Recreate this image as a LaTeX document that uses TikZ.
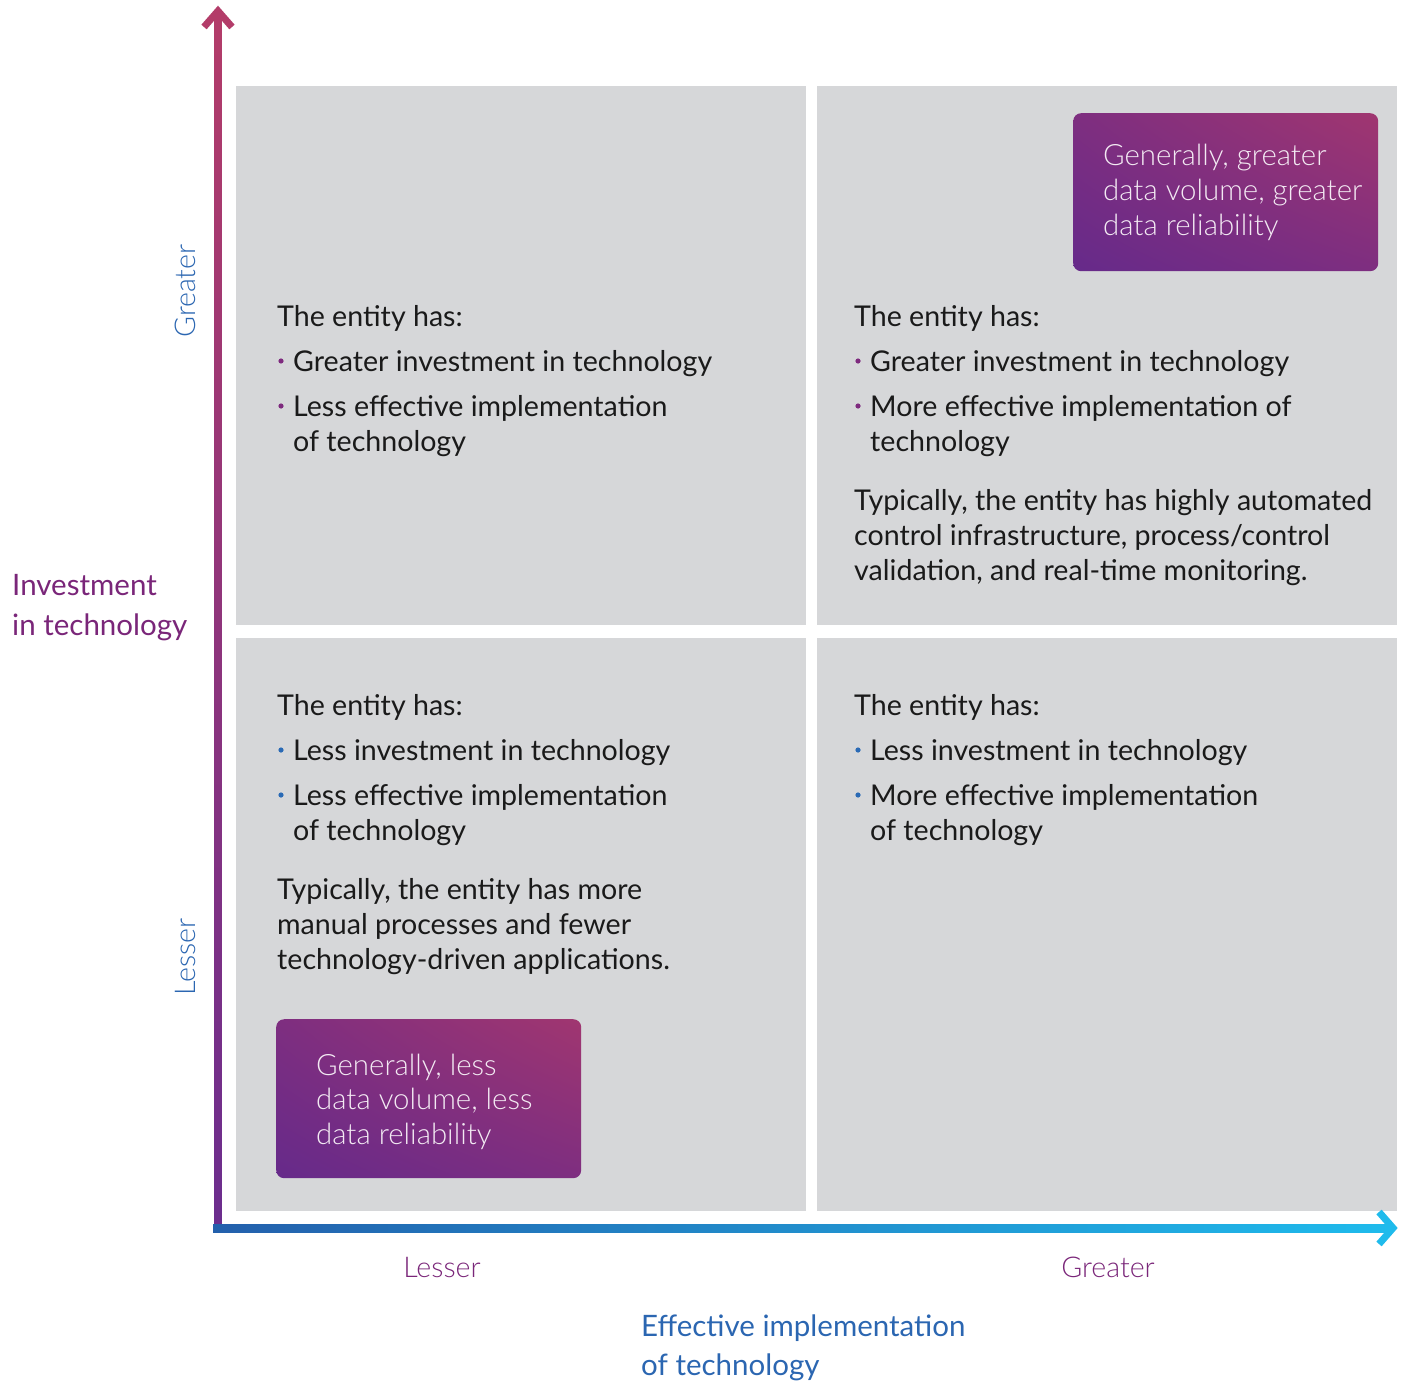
\documentclass[tikz,border=0pt]{standalone}
\usepackage{fontspec}
\setmainfont{Lato}
\newfontfamily\lightfont{Lato Light}
\usetikzlibrary{calc,shadings}

\definecolor{quadgray}{HTML}{D6D7D9}
\definecolor{bodytext}{HTML}{1A1A1A}
\definecolor{labpurple}{HTML}{7A2679}
\definecolor{labblue}{HTML}{2B66B1}
\definecolor{bulpurple}{HTML}{7E2A7E}
\definecolor{bulblue}{HTML}{2A6AB5}
\definecolor{boxLL}{HTML}{662A8A}
\definecolor{boxMid}{HTML}{7E2E80}
\definecolor{boxUR}{HTML}{A03670}
\definecolor{boxtext}{HTML}{F3EAF3}
\definecolor{vaxbot}{HTML}{6B2D8E}
\definecolor{vaxtop}{HTML}{B33C69}
\definecolor{haxleft}{HTML}{2360AC}
\definecolor{haxright}{HTML}{1FBBEC}

\tikzset{
  quad/.style={fill=quadgray, draw=none, anchor=north west, inner sep=0pt},
  body/.style={anchor=base west, inner sep=0pt, text=bodytext, font=\fontsize{28.6}{34}\selectfont},
  boxtxt/.style={anchor=base west, inner sep=0pt, text=boxtext, font=\lightfont\fontsize{29.4}{34}\selectfont},
  axlab/.style={inner sep=0pt, font=\fontsize{29.5}{34}\selectfont},
  axlight/.style={inner sep=0pt, font=\lightfont\fontsize{28.6}{34}\selectfont},
  pbox/.style={anchor=north west, inner sep=0pt, rounded corners=8pt,
    lower left=boxLL, upper left=boxMid, lower right=boxMid, upper right=boxUR},
  bulP/.style={fill=bulpurple},
  bulB/.style={fill=bulblue},
  chevron/.style={line width=7pt, miter limit=10, line join=miter},
}

\begin{document}
\begin{tikzpicture}[x=1pt, y=-1pt]
\useasboundingbox (0,0) rectangle (1408,1383);

% quadrants
\node[quad, minimum width=570pt, minimum height=539pt] (qtl) at (236,86) {};
\node[quad, minimum width=580pt, minimum height=539pt] (qtr) at (817,86) {};
\node[quad, minimum width=570pt, minimum height=573pt] (qbl) at (236,638) {};
\node[quad, minimum width=580pt, minimum height=573pt] (qbr) at (817,638) {};

% highlighted boxes
\node[pbox, minimum width=305pt, minimum height=158pt] (boxtr) at (1073,113) {};
\node[pbox, minimum width=305pt, minimum height=159pt] (boxbl) at (276,1019) {};

\node[boxtxt] (btr1) at (1103,166) {Generally, greater};
\node[boxtxt] (btr2) at (1103,201) {data volume, greater};
\node[boxtxt] (btr3) at (1103,236) {data reliability};

\node[boxtxt] (bbl1) at (316,1075) {Generally, less};
\node[boxtxt] (bbl2) at (316,1109) {data volume, less};
\node[boxtxt] (bbl3) at (316,1144) {data reliability};

% top left quadrant
\node[body] (tlh) at (277,326) {The entity has:};
\node[body] (tl1) at (293,371) {Greater investment in technology};
\node[body] (tl2) at (293,416) {Less effective implementation};
\node[body] (tl3) at (293,451) {of technology};
\fill[bulP] ($(tl1.base west)+(-12,-10)$) circle[radius=2.6pt];
\fill[bulP] ($(tl2.base west)+(-12,-10)$) circle[radius=2.6pt];

% top right quadrant
\node[body] (trh) at (854,326) {The entity has:};
\node[body] (tr1) at (870,371) {Greater investment in technology};
\node[body] (tr2) at (870,416) {More effective implementation of};
\node[body] (tr3) at (870,451) {technology};
\fill[bulP] ($(tr1.base west)+(-12,-10)$) circle[radius=2.6pt];
\fill[bulP] ($(tr2.base west)+(-12,-10)$) circle[radius=2.6pt];
\node[body] (trp1) at (854,510) {Typically, the entity has highly automated};
\node[body] (trp2) at (854,545) {control infrastructure, process/control};
\node[body] (trp3) at (854,580) {validation, and real-time monitoring.};

% bottom left quadrant
\node[body] (blh) at (277,715) {The entity has:};
\node[body] (bl1) at (293,760) {Less investment in technology};
\node[body] (bl2) at (293,805) {Less effective implementation};
\node[body] (bl3) at (293,840) {of technology};
\fill[bulB] ($(bl1.base west)+(-12,-10)$) circle[radius=2.6pt];
\fill[bulB] ($(bl2.base west)+(-12,-10)$) circle[radius=2.6pt];
\node[body] (blp1) at (277,899) {Typically, the entity has more};
\node[body] (blp2) at (277,934) {manual processes and fewer};
\node[body] (blp3) at (277,969) {technology-driven applications.};

% bottom right quadrant
\node[body] (brh) at (854,715) {The entity has:};
\node[body] (br1) at (870,760) {Less investment in technology};
\node[body] (br2) at (870,805) {More effective implementation};
\node[body] (br3) at (870,840) {of technology};
\fill[bulB] ($(br1.base west)+(-12,-10)$) circle[radius=2.6pt];
\fill[bulB] ($(br2.base west)+(-12,-10)$) circle[radius=2.6pt];

% vertical axis
\coordinate (vbot) at (214.5,1232);
\coordinate (vtop) at (221.5,13);
\shade[bottom color=vaxbot, top color=vaxtop] (vbot) rectangle (vtop);
\coordinate (vl) at (204,27);
\coordinate (vt) at (218,11);
\coordinate (vr) at (232,27);
\draw[chevron, draw=vaxtop] (vl) -- (vt) -- (vr);

% horizontal axis
\coordinate (hl) at (213,1224);
\coordinate (hr) at (1391,1232);
\shade[left color=haxleft, right color=haxright] (hl) rectangle (hr);
\coordinate (ht) at (1379,1212);
\coordinate (hm) at (1393,1228);
\coordinate (hb) at (1379,1244);
\draw[chevron, draw=haxright] (ht) -- (hm) -- (hb);

% axis labels
\node[axlight, text=labblue, rotate=90, anchor=base] (yg) at (195,291) {Greater};
\node[axlight, text=labblue, rotate=90, anchor=base] (yl) at (195,957) {Lesser};
\node[axlab, text=labpurple, anchor=base west] (yt1) at (12,595) {Investment};
\node[axlab, text=labpurple, anchor=base west] (yt2) at (12,635) {in technology};

\node[axlight, text=labpurple, anchor=base] (xl) at (442,1277) {Lesser};
\node[axlight, text=labpurple, anchor=base] (xg) at (1108,1277) {Greater};
\node[axlab, text=labblue, anchor=base west] (xt1) at (641,1336) {Effective implementation};
\node[axlab, text=labblue, anchor=base west] (xt2) at (641,1375) {of technology};
\end{tikzpicture}
\end{document}
